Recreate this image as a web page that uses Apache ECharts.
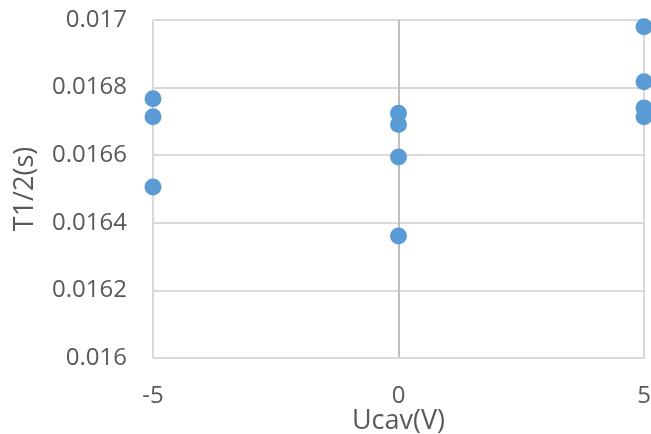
<!DOCTYPE html>
<html>
<head>
<meta charset="utf-8">
<script src="https://cdn.jsdelivr.net/npm/echarts@6/dist/echarts.min.js"></script>
<style>
  html, body { margin: 0; padding: 0; background: #fff; }
  #chart { width: 651px; height: 434px; }
</style>
</head>
<body>
<div id="chart"></div>
<script>
// 电压 (V) 与 半周期 T1/2 (s)
var ucav = [-5, -5, -5, 0, 0, 0, 0, 5, 5, 5, 5];
var halfT = [0.016767, 0.016714, 0.016506, 0.016724, 0.016691, 0.016595, 0.016361, 0.016980, 0.016817, 0.016740, 0.016714];
var xTicks = [-5, 0, 5];
var yTicks = [0.016, 0.0162, 0.0164, 0.0166, 0.0168, 0.017];

var points = [];
for (var i = 0; i < ucav.length; i++) {
	points.push([ucav[i], halfT[i]]);
}

var chart = echarts.init(document.getElementById("chart"));
chart.setOption({
	backgroundColor: "#fff",
	animation: false,
	grid: { left: 153, right: 7, top: 20, bottom: 76, containLabel: false, outerBoundsMode: "none" },
	textStyle: { fontFamily: "Open Sans" },
	xAxis: {
		type: "value",
		min: xTicks[0],
		max: xTicks[xTicks.length - 1],
		interval: 5,
		name: "Ucav(V)",
		nameLocation: "middle",
		nameGap: 50,
		nameMoveOverlap: false,
		nameTextStyle: { fontSize: 27, color: "#595959" },
		axisLine: { show: true, lineStyle: { color: "#d9d9d9", width: 2 } },
		axisTick: { show: false },
		axisLabel: { fontSize: 24, color: "#595959", margin: 26 },
		splitLine: { show: true, lineStyle: { color: ["#d9d9d9", "#bfbfbf", "#d9d9d9"], width: 2 } }
	},
	yAxis: {
		type: "value",
		min: yTicks[0],
		max: yTicks[yTicks.length - 1],
		interval: 0.0002,
		name: "T1/2(s)",
		nameLocation: "middle",
		nameGap: 114,
		nameMoveOverlap: false,
		nameTextStyle: { fontSize: 27, color: "#595959" },
		axisLine: { show: false },
		axisTick: { show: false },
		axisLabel: {
			fontSize: 24, color: "#595959", margin: 26,
			formatter: function (v) { return String(parseFloat(v.toFixed(4))); }
		},
		splitLine: { show: true, lineStyle: { color: "#d9d9d9", width: 2 } }
	},
	series: [{
		type: "scatter",
		data: points,
		symbol: "circle",
		symbolSize: 17,
		itemStyle: { color: "#5b9bd5", opacity: 1 }
	}]
});
</script>
</body>
</html>
